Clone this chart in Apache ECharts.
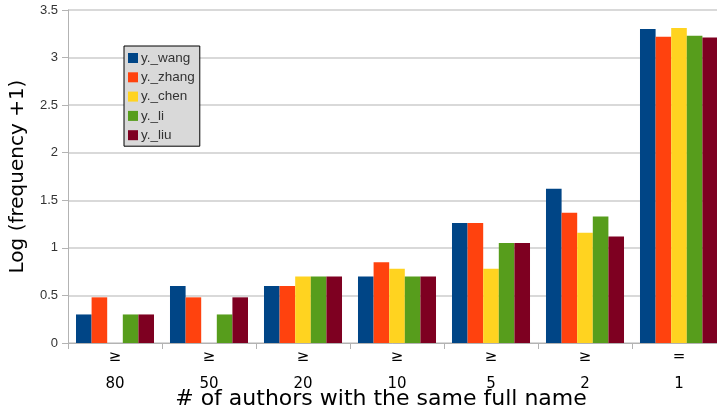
<!DOCTYPE html>
<html><head><meta charset="utf-8">
<script src="https://cdn.jsdelivr.net/npm/echarts@6/dist/echarts.min.js"></script>
<style>html,body{margin:0;padding:0;background:#fff}#c{width:717px;height:412px}</style>
</head><body><div id="c"></div>
<script>
const categories = ['≥80', '≥50', '≥20', '≥10', '≥5', '≥2', '=1'];
const seriesNames = ['y._wang', 'y._zhang', 'y._chen', 'y._li', 'y._liu'];
const wang  = [0.30, 0.60, 0.60, 0.70, 1.26, 1.62, 3.30];
const zhang = [0.48, 0.48, 0.60, 0.85, 1.26, 1.37, 3.22];
const chen  = [0,    0,    0.70, 0.78, 0.78, 1.16, 3.31];
const li    = [0.30, 0.30, 0.70, 0.70, 1.05, 1.33, 3.23];
const liu   = [0.30, 0.48, 0.70, 0.70, 1.05, 1.12, 3.21];
const yTicks = [0, 0.5, 1, 1.5, 2, 2.5, 3, 3.5];
const colors = ['#004586', '#ff420e', '#ffd320', '#579d1c', '#7e0021'];
const values = [wang, zhang, chen, li, liu];

const chart = echarts.init(document.getElementById('c'));
chart.setOption({
  animation: false,
  color: colors,
  textStyle: {fontFamily: 'Liberation Sans'},
  grid: {left: 68, top: 10, width: 658, height: 333, containLabel: false, outerBoundsMode: 'none'},
  legend: {
    orient: 'vertical', left: 124, top: 46,
    itemWidth: 10, itemHeight: 10, itemGap: 5.3,
    icon: 'rect',
    backgroundColor: '#d9d9d9', borderColor: '#000', borderWidth: 1,
    padding: [5, 5, 4, 4],
    textStyle: {fontSize: 13.5, color: '#333', fontFamily: 'Liberation Sans', padding: [0, 0, 0, -2]},
    data: seriesNames
  },
  xAxis: {
    type: 'category', data: categories,
    name: '# of authors with the same full name', nameLocation: 'middle', nameGap: 45,
    nameMoveOverlap: false,
    nameTextStyle: {fontSize: 22, color: '#000', fontFamily: 'DejaVu Sans', padding: [0, 32, 0, 0], verticalAlign: 'top'},
    axisLine: {lineStyle: {color: '#b3b3b3', width: 1}},
    axisTick: {show: true, length: 6, lineStyle: {color: '#b3b3b3'}},
    axisLabel: {
      fontSize: 15, color: '#000', fontFamily: 'DejaVu Sans', lineHeight: 27, margin: 1,
      formatter: v => v.charAt(0) + '\n' + v.slice(1)
    }
  },
  yAxis: {
    type: 'value', min: 0, max: 3.5, interval: 0.5,
    name: 'Log (frequency +1)', nameLocation: 'middle', nameGap: 40, nameRotate: 90,
    nameMoveOverlap: false,
    nameTextStyle: {fontSize: 20, color: '#000', fontFamily: 'DejaVu Sans'},
    axisLine: {show: true, lineStyle: {color: '#b3b3b3', width: 1}},
    axisTick: {show: true, inside: false, length: 6, lineStyle: {color: '#b3b3b3'}},
    axisLabel: {fontSize: 13, color: '#333', margin: 10,
      formatter: v => yTicks.includes(v) ? String(v) : ''},
    splitLine: {lineStyle: {color: '#cccccc', width: 1.5}}
  },
  series: seriesNames.map((n, i) => ({
    name: n, type: 'bar', data: values[i],
    barGap: '0%', barCategoryGap: '17%'
  }))
});
</script></body></html>
